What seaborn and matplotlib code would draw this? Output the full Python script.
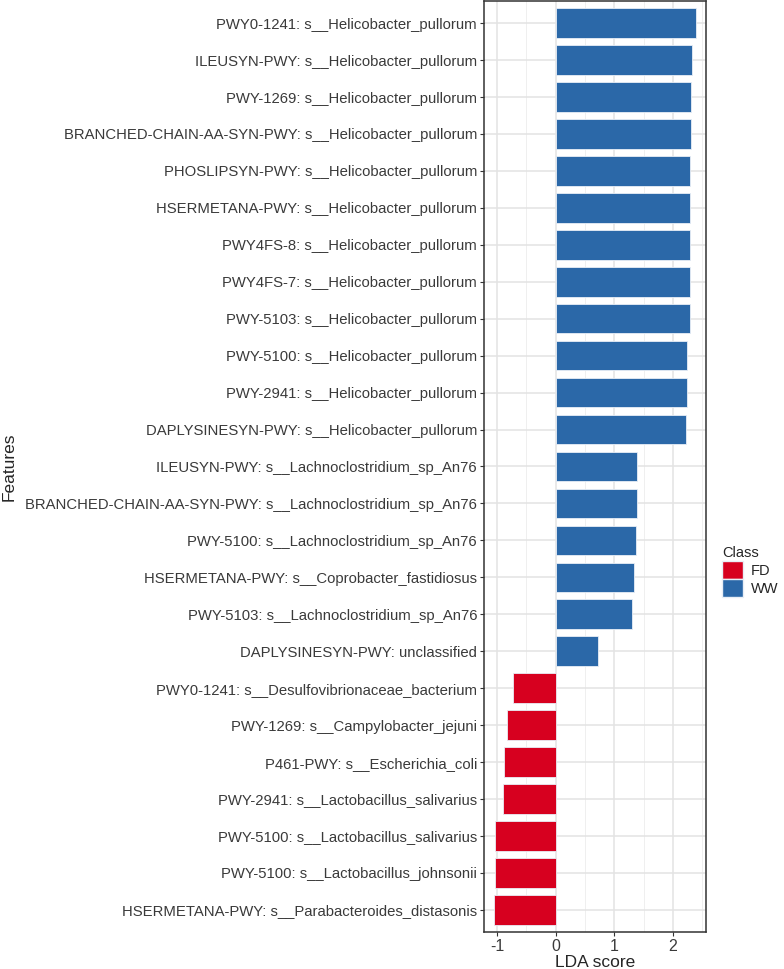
import numpy as np
import pandas as pd
import matplotlib
matplotlib.use("Agg")
import matplotlib.pyplot as plt
import seaborn as sns
from matplotlib.patches import Patch

features = [
    "PWY0-1241: s__Helicobacter_pullorum",
    "ILEUSYN-PWY: s__Helicobacter_pullorum",
    "PWY-1269: s__Helicobacter_pullorum",
    "BRANCHED-CHAIN-AA-SYN-PWY: s__Helicobacter_pullorum",
    "PHOSLIPSYN-PWY: s__Helicobacter_pullorum",
    "HSERMETANA-PWY: s__Helicobacter_pullorum",
    "PWY4FS-8: s__Helicobacter_pullorum",
    "PWY4FS-7: s__Helicobacter_pullorum",
    "PWY-5103: s__Helicobacter_pullorum",
    "PWY-5100: s__Helicobacter_pullorum",
    "PWY-2941: s__Helicobacter_pullorum",
    "DAPLYSINESYN-PWY: s__Helicobacter_pullorum",
    "ILEUSYN-PWY: s__Lachnoclostridium_sp_An76",
    "BRANCHED-CHAIN-AA-SYN-PWY: s__Lachnoclostridium_sp_An76",
    "PWY-5100: s__Lachnoclostridium_sp_An76",
    "HSERMETANA-PWY: s__Coprobacter_fastidiosus",
    "PWY-5103: s__Lachnoclostridium_sp_An76",
    "DAPLYSINESYN-PWY: unclassified",
    "PWY0-1241: s__Desulfovibrionaceae_bacterium",
    "PWY-1269: s__Campylobacter_jejuni",
    "P461-PWY: s__Escherichia_coli",
    "PWY-2941: s__Lactobacillus_salivarius",
    "PWY-5100: s__Lactobacillus_salivarius",
    "PWY-5100: s__Lactobacillus_johnsonii",
    "HSERMETANA-PWY: s__Parabacteroides_distasonis",
]
lda_scores = [2.39, 2.32, 2.31, 2.30, 2.29, 2.29, 2.28, 2.28, 2.28, 2.24, 2.24, 2.22,
              1.38, 1.38, 1.36, 1.33, 1.30, 0.72,
              -0.72, -0.83, -0.88, -0.89, -1.04, -1.04, -1.05]
classes = ["WW"] * 18 + ["FD"] * 7

df = pd.DataFrame({"Features": features, "LDA score": lda_scores, "Class": classes})
palette = {"FD": "#D7001F", "WW": "#2B68A8"}

sns.set_style("white")
plt.rcParams["font.family"] = ["Liberation Sans", "DejaVu Sans"]

fig = plt.figure(figsize=(7.84, 9.69), dpi=100)
ax = fig.add_axes([484 / 784, 1 - 932 / 969, (706 - 484) / 784, 932 / 969 - 0.001])

sns.barplot(data=df, y="Features", x="LDA score", hue="Class", palette=palette,
            order=features, hue_order=["FD", "WW"], dodge=False, orient="h",
            width=0.8, saturation=1, edgecolor="#e8eef6", linewidth=0.6,
            legend=False, ax=ax, zorder=3)

ax.set_xlim(-1.22, 2.56)
ax.set_ylim(len(features) - 0.4, -0.6)
ax.set_xticks([-1, 0, 1, 2])
ax.set_xticklabels(["-1", "0", "1", "2"])
ax.set_xticks([-0.5, 0.5, 1.5, 2.5], minor=True)
ax.grid(True, which="major", color="#e3e3e3", linewidth=1.1, zorder=0)
ax.grid(True, which="minor", axis="x", color="#efefef", linewidth=0.7, zorder=0)
ax.set_axisbelow(True)
for s in ax.spines.values():
    s.set_color("#333333")
    s.set_linewidth(1.1)

ax.tick_params(axis="both", which="major", length=3, width=0.8, color="#333333",
               labelsize=10.7, labelcolor="#3a3a3a", left=True, bottom=True, pad=2)
ax.tick_params(axis="x", which="major", labelsize=11.5)
ax.tick_params(which="minor", length=0)
ax.set_xlabel("LDA score", fontsize=12.5, labelpad=1)
ax.set_ylabel("Features", fontsize=12.5)
ax.yaxis.set_label_coords((17 - 484) / 222, 0.5)

handles = [Patch(facecolor=palette[c], edgecolor="#e8eef6", label=c) for c in ["FD", "WW"]]
fig.legend(handles=handles, title="Class", loc="upper left",
           bbox_to_anchor=(709 / 784, 1 - 533 / 969), frameon=False,
           fontsize=10.5, title_fontsize=10.5, handlelength=1.45, handleheight=1.5,
           handletextpad=0.5, labelspacing=0.05, alignment="left")

fig.savefig("out.png", dpi=100)
plt.close()
